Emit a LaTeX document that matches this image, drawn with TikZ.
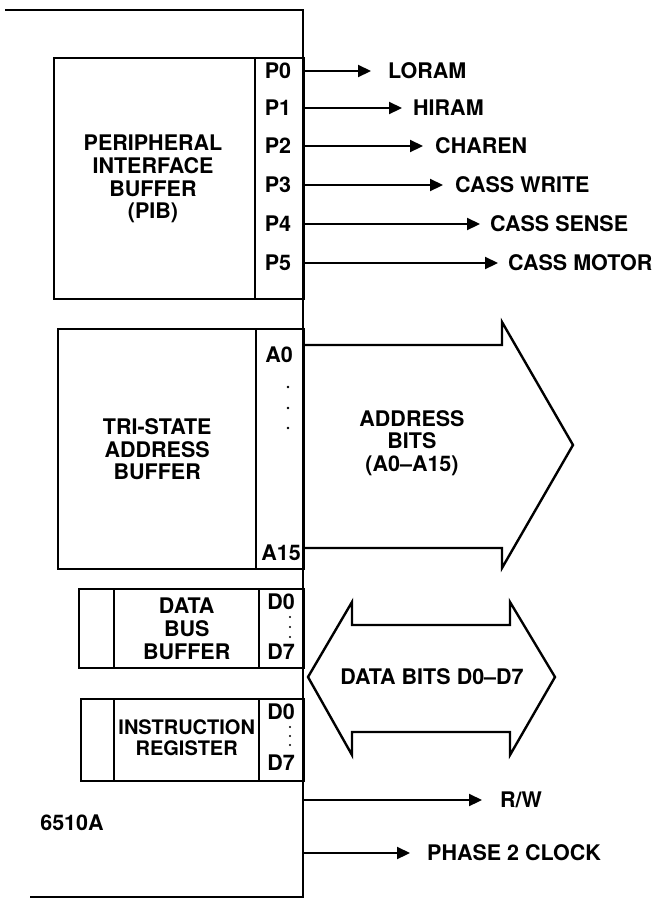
\documentclass[tikz,border=0pt]{standalone}
\usepackage{fontspec}
\setmainfont{TeX Gyre Heros}
\usetikzlibrary{arrows.meta,positioning}

\tikzset{
  blk/.style={draw, line width=2.4pt, inner sep=0pt, anchor=north west},
  lbl/.style={font=\bfseries\fontsize{21.5}{22.8}\selectfont, inner sep=0pt, align=center},
  sig/.style={line width=2.2pt, -{Triangle[length=13pt,width=12pt]}},
  bus/.style={line width=2.4pt, line join=miter},
}

\begin{document}
\begin{tikzpicture}[x=1pt,y=-1pt]
\useasboundingbox (0,0) rectangle (655,900);

% chip outline, open on the left
\draw[line width=2.4pt] (5,10) -- (303,10) -- (303,897) -- (30,897);
\coordinate (edge) at (303,0);

% peripheral interface buffer
\node[blk, minimum width=201pt, minimum height=241pt] (pib) at (53,57) {};
\node[blk, minimum width=49pt, minimum height=241pt] (pibpins) at (254,57) {};
\node[lbl] at (153,179) {PERIPHERAL\\INTERFACE\\BUFFER\\(PIB)};
\foreach \n/\y/\x/\g/\t in {0/71/388/17/LORAM,1/108/413/11/HIRAM,2/146/435/12/CHAREN,
    3/185/455/12/CASS WRITE,4/224/490/10/CASS SENSE,5/263/508/10/CASS MOTOR}{
  \node[lbl] (p\n) at (278,\y) {P\n};
  \node[lbl, anchor=west] (s\n) at (\x,\y) {\t};
  \draw[sig, shorten >=\g pt] (pibpins.east |- s\n.west) -- (s\n.west);
}

% tri-state address buffer
\node[blk, minimum width=198pt, minimum height=240pt] (tab) at (57,328) {};
\node[blk, minimum width=48pt, minimum height=240pt] (tabpins) at (255,328) {};
\node[lbl] at (tab.center) {TRI-STATE\\ADDRESS\\BUFFER};
\node[lbl] (a0) at (279,355) {A0};
\node[lbl] (a15) at (281,553) {A15};
\foreach \y in {387,408,428} \fill (288,\y) circle (1.4pt);

% address bus
\draw[bus] (303,345) -- (502,345) -- (502,322) -- (573,445) -- (502,568) -- (502,548) -- (303,548);
\node[lbl] (abits) at (412,443) {ADDRESS\\BITS\\(A0--A15)};

% data bus buffer
\node[blk, minimum width=35pt, minimum height=79pt] (dbbl) at (78,588) {};
\node[blk, minimum width=145pt, minimum height=79pt] (dbb) at (113,588) {};
\node[blk, minimum width=45pt, minimum height=79pt] (dbbpins) at (258,588) {};
\node[lbl] at (dbb.center) {DATA\\BUS\\BUFFER};
\node[lbl] (dd0) at (281,602) {D0};
\node[lbl] (dd7) at (281,652) {D7};
\foreach \y in {617,627,637} \fill (290,\y) circle (1.2pt);

% instruction register
\node[blk, minimum width=33pt, minimum height=82pt] (irl) at (80,698) {};
\node[blk, minimum width=145pt, minimum height=82pt] (ir) at (113,698) {};
\node[blk, minimum width=45pt, minimum height=82pt] (irpins) at (258,698) {};
\node[lbl, font=\bfseries\fontsize{20}{21}\selectfont] at ([yshift=2pt]ir.center) {INSTRUCTION\\REGISTER};
\node[lbl] (id0) at (281,712) {D0};
\node[lbl] (id7) at (281,763) {D7};
\foreach \y in {727,736,745} \fill (290,\y) circle (1.2pt);

% data bus
\draw[bus] (308,677) -- (352,602) -- (352,625) -- (510,625) -- (510,602) -- (555,677)
  -- (510,755) -- (510,732) -- (352,732) -- (352,755) -- cycle;
\node[lbl] (dbits) at (432,677) {DATA BITS D0--D7};

% control outputs
\node[lbl, anchor=west] (rw) at (500,800) {R/W};
\draw[sig, shorten >=18pt] (edge |- rw.west) -- (rw.west);
\node[lbl, anchor=west] (phi2) at (427,853) {PHASE 2 CLOCK};
\draw[sig, shorten >=17pt] (edge |- phi2.west) -- (phi2.west);

\node[lbl] (chip) at (72,823) {6510A};
\end{tikzpicture}
\end{document}
